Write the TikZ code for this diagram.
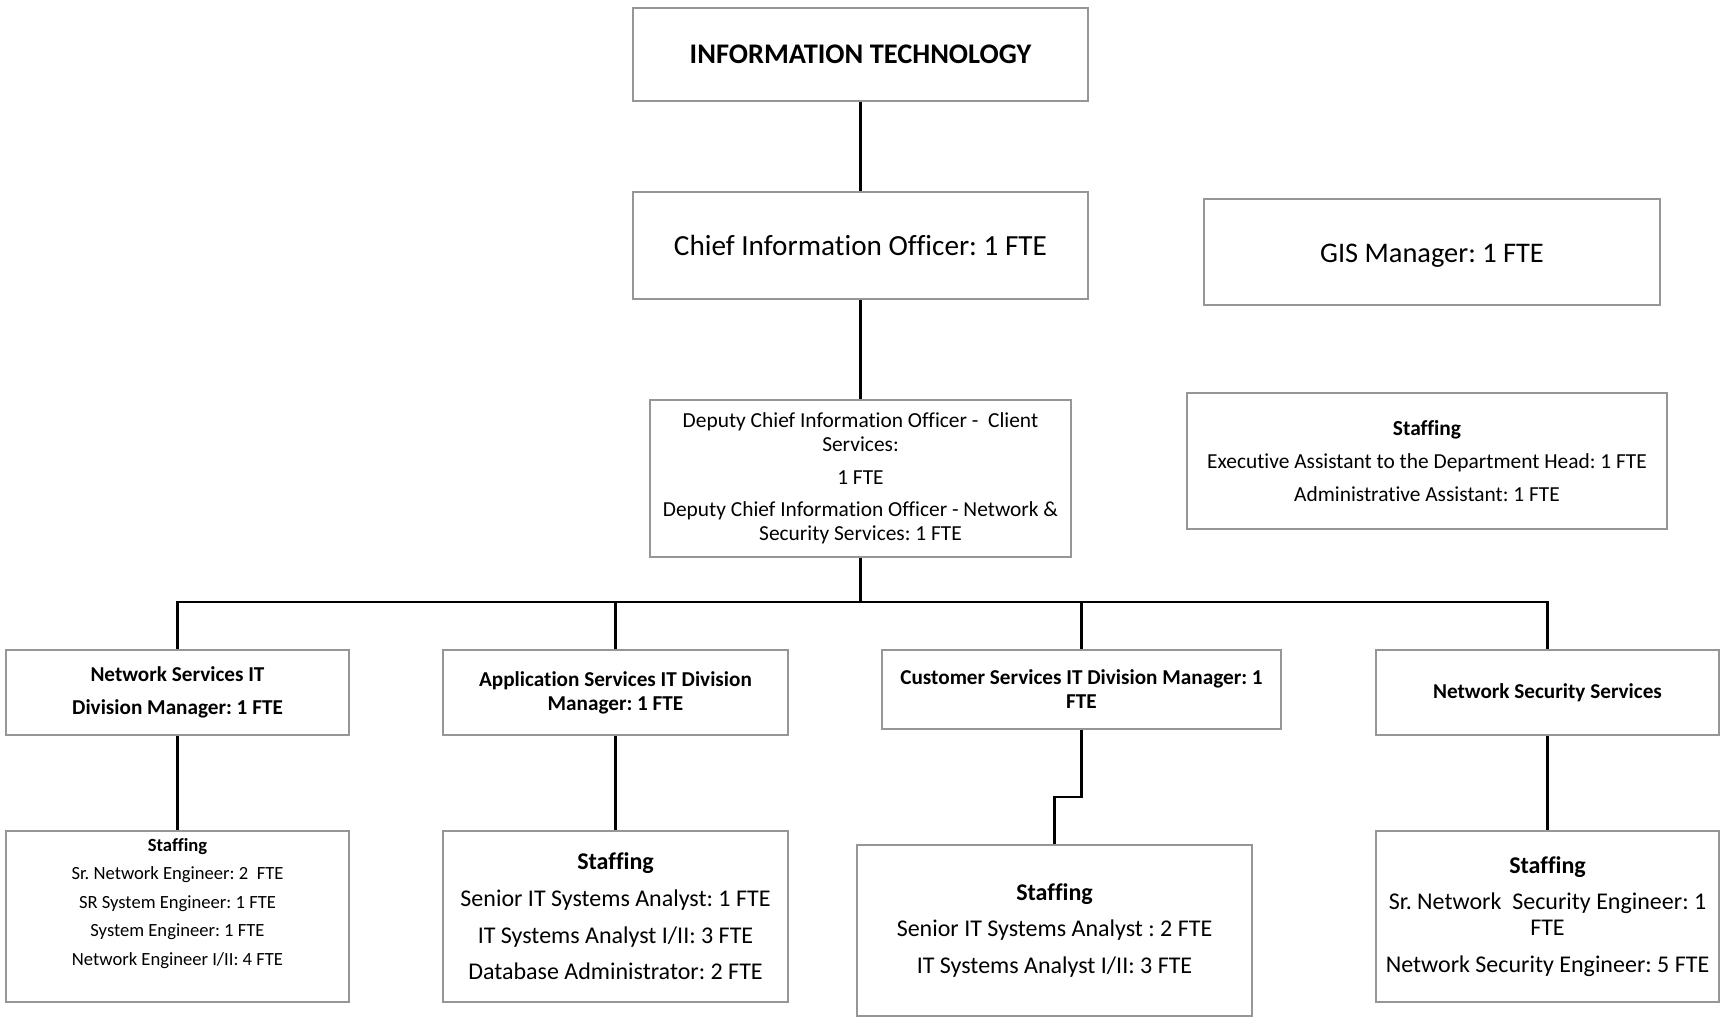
\documentclass[tikz,border=0pt]{standalone}
\usepackage{fontspec}
\setmainfont{Carlito}[RawFeature=-liga]
\frenchspacing
\definecolor{boxgray}{RGB}{150,150,150}
\begin{document}
\begin{tikzpicture}[x=0.5pt,y=-0.5pt,
  box/.style={draw=boxgray,line width=0.8pt,inner sep=0pt,align=center},
  link/.style={line width=1.4pt},
  title/.style={font={\fontsize{14.2}{17}\selectfont\bfseries}},
  chief/.style={font={\fontsize{14.6}{17}\selectfont}},
  plain/.style={font={\fontsize{10.7}{12}\selectfont}},
  head/.style={font={\fontsize{10.6}{12}\selectfont\bfseries}},
  small/.style={font={\fontsize{9.3}{11.5}\selectfont}},
  staff/.style={font={\fontsize{12}{13}\selectfont}}]
\useasboundingbox (0,0) rectangle (1720,1017);
% top of the chart
\node[box,title,minimum width=227.5pt,minimum height=46.5pt] (it) at (860.5,54.5) {INFORMATION TECHNOLOGY};
\node[box,chief,minimum width=227.5pt,minimum height=53.5pt] (cio) at (860.5,245.5) {Chief Information Officer: 1 FTE};
\node[box,chief,font={\fontsize{14.2}{17}\selectfont},minimum width=228pt,minimum height=53pt] (gis) at (1432,252) {\rule{0pt}{13pt}GIS Manager: 1 FTE};
\node[box,plain,minimum width=210.5pt,minimum height=78.5pt] (deputy) at (860.5,478.5)
  {Deputy Chief Information Officer -\ \ Client\\Services:\\[4.25pt]
   1 FTE\\[4.25pt]
   Deputy Chief Information Officer - Network \&\\Security Services: 1 FTE};
\node[box,plain,font={\fontsize{10.7}{13}\selectfont},minimum width=240pt,minimum height=68pt] (admin) at (1427,461)
  {\textbf{Staffing}\\[3.5pt]
   Executive Assistant to the Department Head: 1 FTE\\[3.5pt]
   Administrative Assistant: 1 FTE};
% division managers
\node[box,head,minimum width=171.5pt,minimum height=42.5pt] (nsmgr) at (177.5,692.5)
  {Network Services IT\\[4.5pt]Division Manager: 1 FTE};
\node[box,head,minimum width=172.5pt,minimum height=42.5pt] (appmgr) at (615.5,692.5)
  {Application Services IT Division\\Manager: 1 FTE};
\node[box,head,minimum width=199.5pt,minimum height=39.5pt] (custmgr) at (1081.5,689.5)
  {Customer Services IT Division Manager: 1\\FTE};
\node[box,head,minimum width=171.5pt,minimum height=42.5pt] (secmgr) at (1547.5,692.5)
  {Network Security Services};
% staffing under each division
\node[box,small,minimum width=171.5pt,minimum height=85.5pt] (nsstaff) at (177.5,916.5)
  {\textbf{Staffing}\\[2.75pt]
   Sr. Network Engineer: 2\ \ FTE\\[2.75pt]
   SR System Engineer: 1 FTE\\[2.75pt]
   System Engineer: 1 FTE\\[2.75pt]
   Network Engineer I/II: 4 FTE\rule[-15pt]{0pt}{0pt}};
\node[box,staff,minimum width=172.5pt,minimum height=85.5pt] (appstaff) at (615.5,916.5)
  {\textbf{Staffing}\\[5.3pt]
   Senior IT Systems Analyst: 1 FTE\\[5.3pt]
   IT Systems Analyst I/II: 3 FTE\\[5.3pt]
   Database Administrator: 2 FTE};
\node[box,staff,minimum width=197.5pt,minimum height=85.5pt] (custstaff) at (1054.5,930.5)
  {\textbf{Staffing}\\[5.3pt]
   Senior IT Systems Analyst : 2 FTE\\[5.3pt]
   IT Systems Analyst I/II: 3 FTE};
\node[box,staff,minimum width=171.5pt,minimum height=85.5pt] (secstaff) at (1547.5,916.5)
  {\textbf{Staffing}\\[5.3pt]
   Sr. Network\ \ Security Engineer: 1\\FTE\\[5.3pt]
   Network Security Engineer: 5 FTE};
% connectors
\coordinate (bus) at (860.5,602);
\coordinate (custjog) at (1068,797);
\draw[link] (it) -- (cio);
\draw[link] (cio) -- (deputy);
\draw[link] (deputy) -- (bus);
\foreach \m in {nsmgr,appmgr,custmgr,secmgr}
  \draw[link] (bus) -| (\m.north);
\draw[link] (nsmgr) -- (nsstaff);
\draw[link] (appmgr) -- (appstaff);
\draw[link] (custmgr.south) |- (custjog) -| (custstaff.north);
\draw[link] (secmgr) -- (secstaff);
\end{tikzpicture}
\end{document}
